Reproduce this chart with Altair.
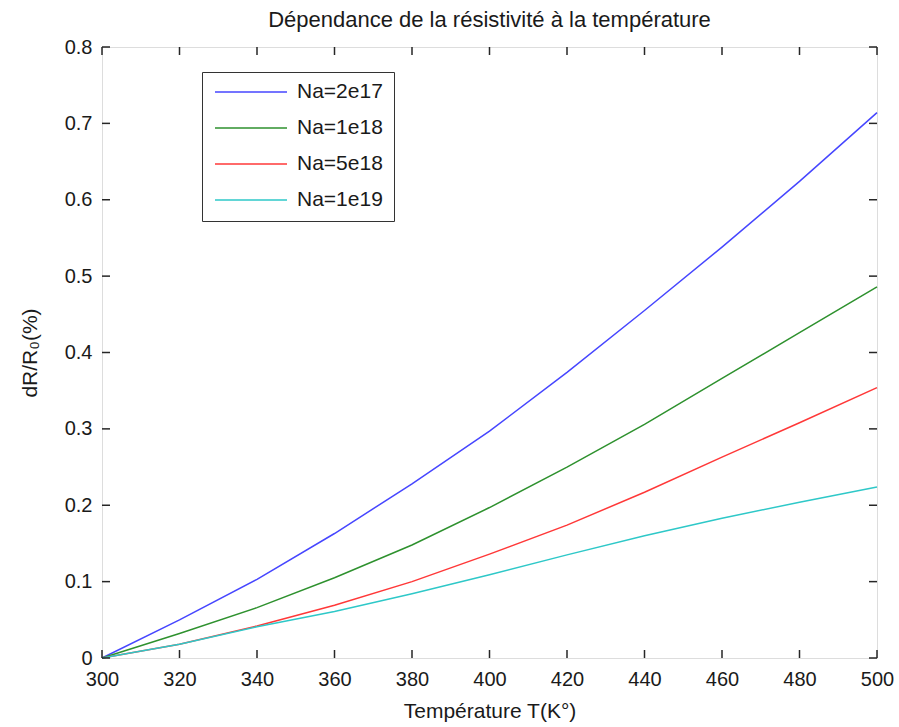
import altair as alt
import pandas as pd

# ---- data ----
temperature = [300, 320, 340, 360, 380, 400, 420, 440, 460, 480, 500]
na_2e17 = [0.0, 0.050, 0.103, 0.163, 0.228, 0.297, 0.374, 0.455, 0.538, 0.624, 0.714]
na_1e18 = [0.0, 0.032, 0.066, 0.105, 0.148, 0.197, 0.250, 0.306, 0.366, 0.426, 0.486]
na_5e18 = [0.0, 0.018, 0.042, 0.069, 0.100, 0.136, 0.174, 0.217, 0.263, 0.308, 0.354]
na_1e19 = [0.0, 0.018, 0.041, 0.061, 0.084, 0.109, 0.135, 0.160, 0.183, 0.204, 0.224]

series_names = ["Na=2e17", "Na=1e18", "Na=5e18", "Na=1e19"]
series_colors = ["#4646ff", "#2e912e", "#ff3838", "#2ec8c8"]

x_ticks = [300, 320, 340, 360, 380, 400, 420, 440, 460, 480, 500]
y_ticks = [0, 0.1, 0.2, 0.3, 0.4, 0.5, 0.6, 0.7, 0.8]

title_text = "Dépendance de la résistivité à la température"
x_title = "Température T(K°)"
y_title = "dR/R₀(%)"

# ---- tables ----
rows = []
for name, vals in zip(series_names, [na_2e17, na_1e18, na_5e18, na_1e19]):
    for t, v in zip(temperature, vals):
        rows.append({"T": t, "v": v, "serie": name})
df = pd.DataFrame(rows)
xt = pd.DataFrame({"T": x_ticks})
yt = pd.DataFrame({"v": y_ticks})

W, H = 775, 611
FONT = "Liberation Sans"
TXT = "#1a1a1a"
TICK = 8

xscale = alt.Scale(domain=[300, 500], nice=False, zero=False)
yscale = alt.Scale(domain=[0, 0.8], nice=False)

x_axis = alt.Axis(values=x_ticks, grid=False, domain=False, ticks=False,
                  tickSize=0, labelPadding=11, labelFontSize=20, labelFont=FONT,
                  labelColor=TXT, titleFontSize=21, titleFont=FONT,
                  titleFontWeight="normal", titleColor=TXT, titlePadding=11,
                  labelFlush=False)
y_axis = alt.Axis(values=y_ticks, grid=False, domain=False, ticks=False,
                  tickSize=0, labelPadding=10, labelFontSize=20, labelFont=FONT,
                  labelColor=TXT, titleFontSize=21, titleFont=FONT,
                  titleFontWeight="normal", titleColor=TXT, titlePadding=24,
                  labelFlush=False,
                  labelExpr="datum.value == 0 ? '0' : format(datum.value, '.1f')")

X = alt.X("T:Q", scale=xscale, title=x_title, axis=x_axis)
Y = alt.Y("v:Q", scale=yscale, title=y_title, axis=y_axis)

lines = alt.Chart(df).mark_line(strokeWidth=1.5).encode(
    x=X,
    y=Y,
    color=alt.Color("serie:N",
                    scale=alt.Scale(domain=series_names, range=series_colors),
                    sort=series_names,
                    legend=alt.Legend(title=None, orient="none", legendX=100, legendY=25,
                                      symbolType="stroke", symbolSize=5184,
                                      symbolStrokeWidth=1.5, symbolOffset=1,
                                      labelOffset=9, clipHeight=18, rowPadding=15,
                                      padding=11, labelFontSize=21, labelFont=FONT,
                                      labelColor=TXT, strokeColor="#333333",
                                      fillColor="#ffffff")),
)

tick_color = "#262626"
bottom_ticks = alt.Chart(xt).mark_rule(color=tick_color, strokeWidth=1.5).encode(
    x=X, y=alt.value(H), y2=alt.value(H - TICK))
top_ticks = alt.Chart(xt).mark_rule(color=tick_color, strokeWidth=1.5).encode(
    x=X, y=alt.value(0), y2=alt.value(TICK))
left_ticks = alt.Chart(yt).mark_rule(color=tick_color, strokeWidth=1.5).encode(
    y=Y, x=alt.value(0), x2=alt.value(TICK))
right_ticks = alt.Chart(yt).mark_rule(color=tick_color, strokeWidth=1.5).encode(
    y=Y, x=alt.value(W), x2=alt.value(W - TICK))

chart = alt.layer(lines, bottom_ticks, top_ticks, left_ticks, right_ticks).properties(
    width=W, height=H,
    title=alt.TitleParams(title_text, fontSize=22, font=FONT, fontWeight="normal",
                          anchor="middle", offset=5, color=TXT),
    autosize=alt.AutoSizeParams(type="none"),
    padding={"left": 102, "top": 47, "right": 22, "bottom": 69},
).configure_view(stroke="#333333", strokeWidth=1.5).configure(background="white")

chart.save("out.html", embed_options={"renderer": "svg", "actions": False})
